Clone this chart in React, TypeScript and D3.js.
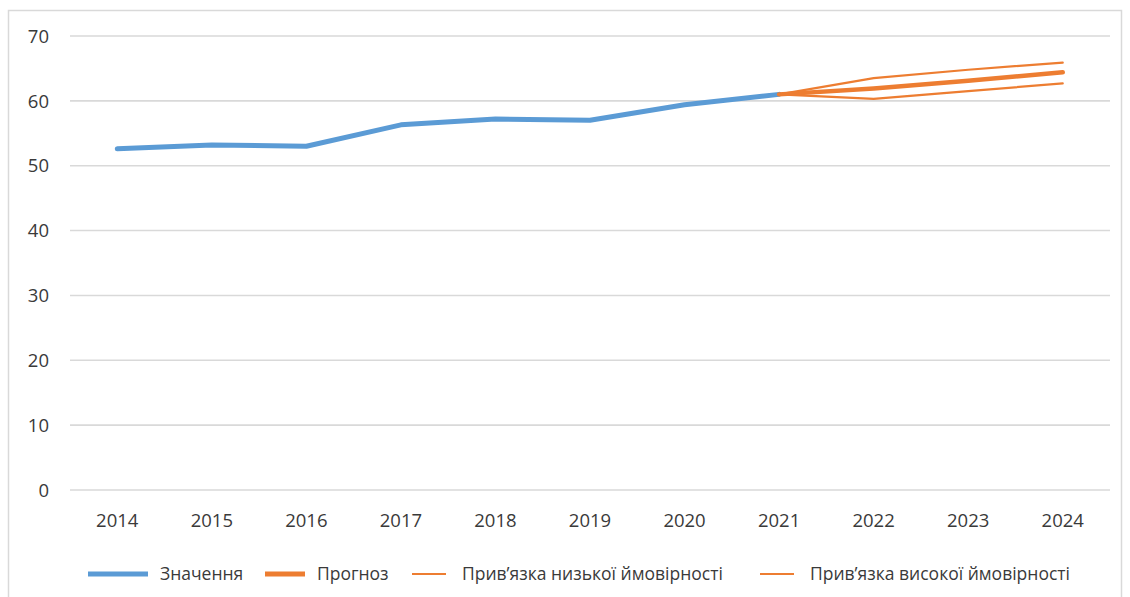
import React from 'react';
import * as d3 from 'd3';

const years = ['2014', '2015', '2016', '2017', '2018', '2019', '2020', '2021', '2022', '2023', '2024'];
const actualValues = [52.6, 53.2, 53.0, 56.3, 57.2, 57.0, 59.4, 61.0];
const forecastYears = ['2021', '2022', '2023', '2024'];
const forecastValues = [61.0, 61.9, 63.1, 64.4];
const lowBound = [61.0, 60.3, 61.5, 62.7];
const highBound = [61.0, 63.5, 64.8, 65.9];
const yTicks = [0, 10, 20, 30, 40, 50, 60, 70];

const legendItems = [
  { label: 'Значення', color: '#5b9bd5', width: 5, x: 88, len: 60 },
  { label: 'Прогноз', color: '#ed7d31', width: 5, x: 265, len: 40 },
  { label: 'Прив’язка низької ймовірності', color: '#ed7d31', width: 2, x: 412, len: 34 },
  { label: 'Прив’язка високої ймовірності', color: '#ed7d31', width: 2, x: 760, len: 34 },
];

const W = 1130;
const H = 597;
const left = 70;
const right = 1110;
const top = 36;
const bottom = 490;

const App: React.FC = () => {
  const x = d3.scaleBand<string>().domain(years).range([left, right]);
  const cx = (yr: string) => (x(yr) || 0) + x.bandwidth() / 2;
  const y = d3.scaleLinear().domain([0, 70]).range([bottom, top]);

  const line = d3
    .line<[string, number]>()
    .x(d => cx(d[0]))
    .y(d => y(d[1]));

  const actual = actualValues.map((v, i) => [years[i], v] as [string, number]);
  const fc = forecastValues.map((v, i) => [forecastYears[i], v] as [string, number]);
  const lo = lowBound.map((v, i) => [forecastYears[i], v] as [string, number]);
  const hi = highBound.map((v, i) => [forecastYears[i], v] as [string, number]);

  const tickFont = '"Open Sans", sans-serif';

  return (
    <svg
      width={W}
      height={H}
      style={{ position: 'absolute', left: 0, top: 0, background: '#fff' }}
    >
      <rect x={8.5} y={10.5} width={1113} height={600} fill="#fff" stroke="#d9d9d9" strokeWidth={1.5} />

      {/* gridlines */}
      {yTicks.map(t => (
        <line
          key={t}
          x1={left}
          x2={right}
          y1={y(t)}
          y2={y(t)}
          stroke="#d9d9d9"
          strokeWidth={1.6}
        />
      ))}

      {/* y labels */}
      {yTicks.map(t => (
        <text
          key={'l' + t}
          x={49}
          y={y(t)}
          dy="0.36em"
          textAnchor="end"
          fontFamily={tickFont}
          fontSize={18.5}
          fill="#3a3a3a"
        >
          {t}
        </text>
      ))}

      {/* x labels */}
      {years.map(yr => (
        <text
          key={yr}
          x={cx(yr)}
          y={520}
          dy="0.36em"
          textAnchor="middle"
          fontFamily={tickFont}
          fontSize={18.5}
          fill="#3a3a3a"
        >
          {yr}
        </text>
      ))}

      {/* series */}
      <path d={line(hi) || ''} fill="none" stroke="#ed7d31" strokeWidth={2.2} strokeLinecap="round" />
      <path d={line(lo) || ''} fill="none" stroke="#ed7d31" strokeWidth={2.2} strokeLinecap="round" />
      <path d={line(actual) || ''} fill="none" stroke="#5b9bd5" strokeWidth={5} strokeLinecap="round" strokeLinejoin="round" />
      <path d={line(fc) || ''} fill="none" stroke="#ed7d31" strokeWidth={4.5} strokeLinecap="round" strokeLinejoin="round" />

      {/* legend */}
      {legendItems.map(it => (
        <g key={it.label}>
          <line
            x1={it.x}
            x2={it.x + it.len}
            y1={574}
            y2={574}
            stroke={it.color}
            strokeWidth={it.width}
          />
          <text
            x={it.x + it.len + (it.width > 3 ? 12 : 16)}
            y={574}
            dy="0.36em"
            fontFamily={tickFont}
            fontSize={17.5}
            fill="#3a3a3a"
          >
            {it.label}
          </text>
        </g>
      ))}
    </svg>
  );
};

export default App;
